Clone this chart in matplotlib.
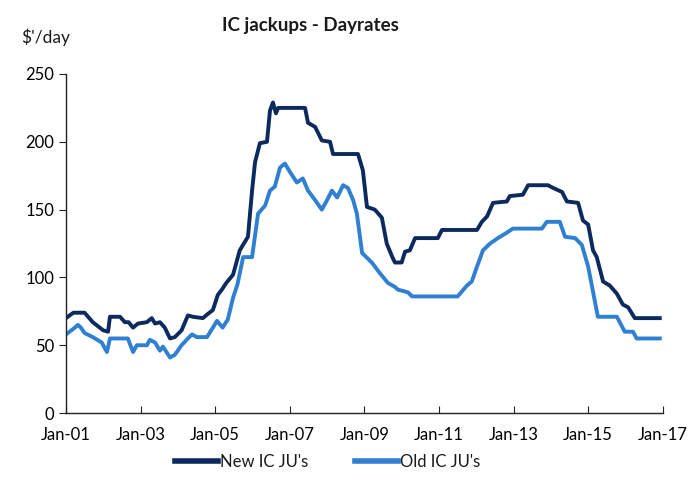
import matplotlib.pyplot as plt

plt.rcParams['font.family'] = ['Lato', 'DejaVu Sans']
plt.rcParams['text.color'] = '#1A1A1A'

# New IC jackups (decimal year, $'000/day)
new_years = [2001.0, 2001.05, 2001.2, 2001.38, 2001.5, 2001.72, 2002.0, 2002.13, 2002.18, 2002.45,
             2002.58, 2002.68, 2002.8, 2002.93, 2003.17, 2003.3, 2003.39, 2003.52, 2003.65, 2003.79,
             2003.92, 2004.1, 2004.27, 2004.4, 2004.67, 2004.8, 2004.94, 2005.07, 2005.18, 2005.3,
             2005.48, 2005.66, 2005.88, 2005.99, 2006.07, 2006.2, 2006.39, 2006.47, 2006.55, 2006.63,
             2006.69, 2007.41, 2007.49, 2007.68, 2007.86, 2008.08, 2008.16, 2008.83, 2008.96, 2009.07,
             2009.28, 2009.47, 2009.6, 2009.75, 2009.82, 2010.0, 2010.09, 2010.22, 2010.36, 2010.97,
             2011.08, 2012.02, 2012.15, 2012.29, 2012.45, 2012.82, 2012.9, 2013.25, 2013.39, 2013.92,
             2014.06, 2014.3, 2014.43, 2014.73, 2014.86, 2015.0, 2015.13, 2015.23, 2015.4, 2015.58,
             2015.77, 2015.93, 2016.07, 2016.25, 2016.92]
new_rates = [70, 71, 74, 74, 74, 67, 61, 60, 71, 71,
             67, 67, 63, 66, 67, 70, 66, 67, 63, 55,
             56, 61, 72, 71, 70, 73, 76, 87, 91, 96,
             102, 120, 130, 164, 185, 199, 200, 223, 229, 221,
             225, 225, 214, 211, 201, 200, 191, 191, 179, 152,
             150, 144, 125, 115, 111, 111, 119, 120, 129, 129,
             135, 135, 141, 145, 155, 156, 160, 161, 168, 168,
             166, 163, 156, 155, 142, 139, 120, 115, 97, 94,
             88, 80, 78, 70, 70]

# Old IC jackups
old_years = [2001.0, 2001.05, 2001.24, 2001.32, 2001.4, 2001.5, 2001.72, 2001.96, 2002.1, 2002.18,
             2002.66, 2002.8, 2002.9, 2003.17, 2003.25, 2003.39, 2003.52, 2003.6, 2003.79, 2003.92,
             2004.1, 2004.27, 2004.38, 2004.51, 2004.78, 2004.94, 2005.05, 2005.2, 2005.34, 2005.48,
             2005.6, 2005.75, 2005.99, 2006.15, 2006.34, 2006.47, 2006.6, 2006.74, 2006.87, 2007.0,
             2007.19, 2007.35, 2007.49, 2007.68, 2007.86, 2008.0, 2008.13, 2008.27, 2008.43, 2008.56,
             2008.7, 2008.8, 2008.94, 2009.2, 2009.42, 2009.63, 2009.82, 2009.9, 2010.17, 2010.28,
             2011.5, 2011.75, 2011.88, 2012.02, 2012.18, 2012.37, 2012.58, 2012.82, 2012.98, 2013.76,
             2013.89, 2014.24, 2014.38, 2014.65, 2014.83, 2015.0, 2015.26, 2015.77, 2015.98, 2016.2,
             2016.3, 2016.92]
old_rates = [58, 59, 63, 65, 63, 59, 56, 52, 45, 55,
             55, 45, 50, 50, 54, 52, 46, 49, 41, 43,
             50, 55, 58, 56, 56, 63, 68, 63, 69, 85,
             95, 115, 115, 147, 153, 164, 167, 181, 184, 178,
             170, 173, 164, 157, 150, 157, 164, 159, 168, 166,
             157, 147, 118, 111, 103, 96, 93, 91, 89, 86,
             86, 94, 97, 108, 120, 125, 129, 133, 136, 136,
             141, 141, 130, 129, 124, 108, 71, 71, 60, 60,
             55, 55]

tick_years = list(range(2001, 2018, 2))
tick_labels = ['Jan-%02d' % (y % 100) for y in tick_years]

fig = plt.figure(figsize=(6.94, 4.9), dpi=100)
ax = fig.add_axes([0.095, 0.157, 0.86, 0.692])

ax.plot(new_years, new_rates, color='#0C2A5E', linewidth=2.8, label="New IC JU's",
        solid_joinstyle='round')
ax.plot(old_years, old_rates, color='#2F7FD2', linewidth=2.8, label="Old IC JU's",
        solid_joinstyle='round')

ax.set_xlim(2001, 2017)
ax.set_ylim(0, 250)
ax.set_yticks(range(0, 251, 50))
ax.set_xticks(tick_years)
ax.set_xticklabels(tick_labels)

for spine in ['top', 'right']:
    ax.spines[spine].set_visible(False)
for spine in ['left', 'bottom']:
    ax.spines[spine].set_color('#222222')
    ax.spines[spine].set_linewidth(1.0)

ax.tick_params(axis='x', direction='in', length=5, labelsize=12, pad=10, color='#222222')
ax.tick_params(axis='y', direction='out', length=5, labelsize=12, color='#222222')

fig.text(0.447, 0.948, 'IC jackups - Dayrates', ha='center', va='center',
         fontsize=13.5, fontweight='bold')
fig.text(0.03, 0.925, "$'/day", ha='left', va='center', fontsize=12.5)

leg = fig.legend(loc='center', bbox_to_anchor=(0.472, 0.057), ncol=2, frameon=False,
                 fontsize=12, handlelength=2.6, handletextpad=0.1, columnspacing=2.8)
for line in leg.get_lines():
    line.set_linewidth(4)

fig.savefig('out.png', dpi=100)
plt.close(fig)
